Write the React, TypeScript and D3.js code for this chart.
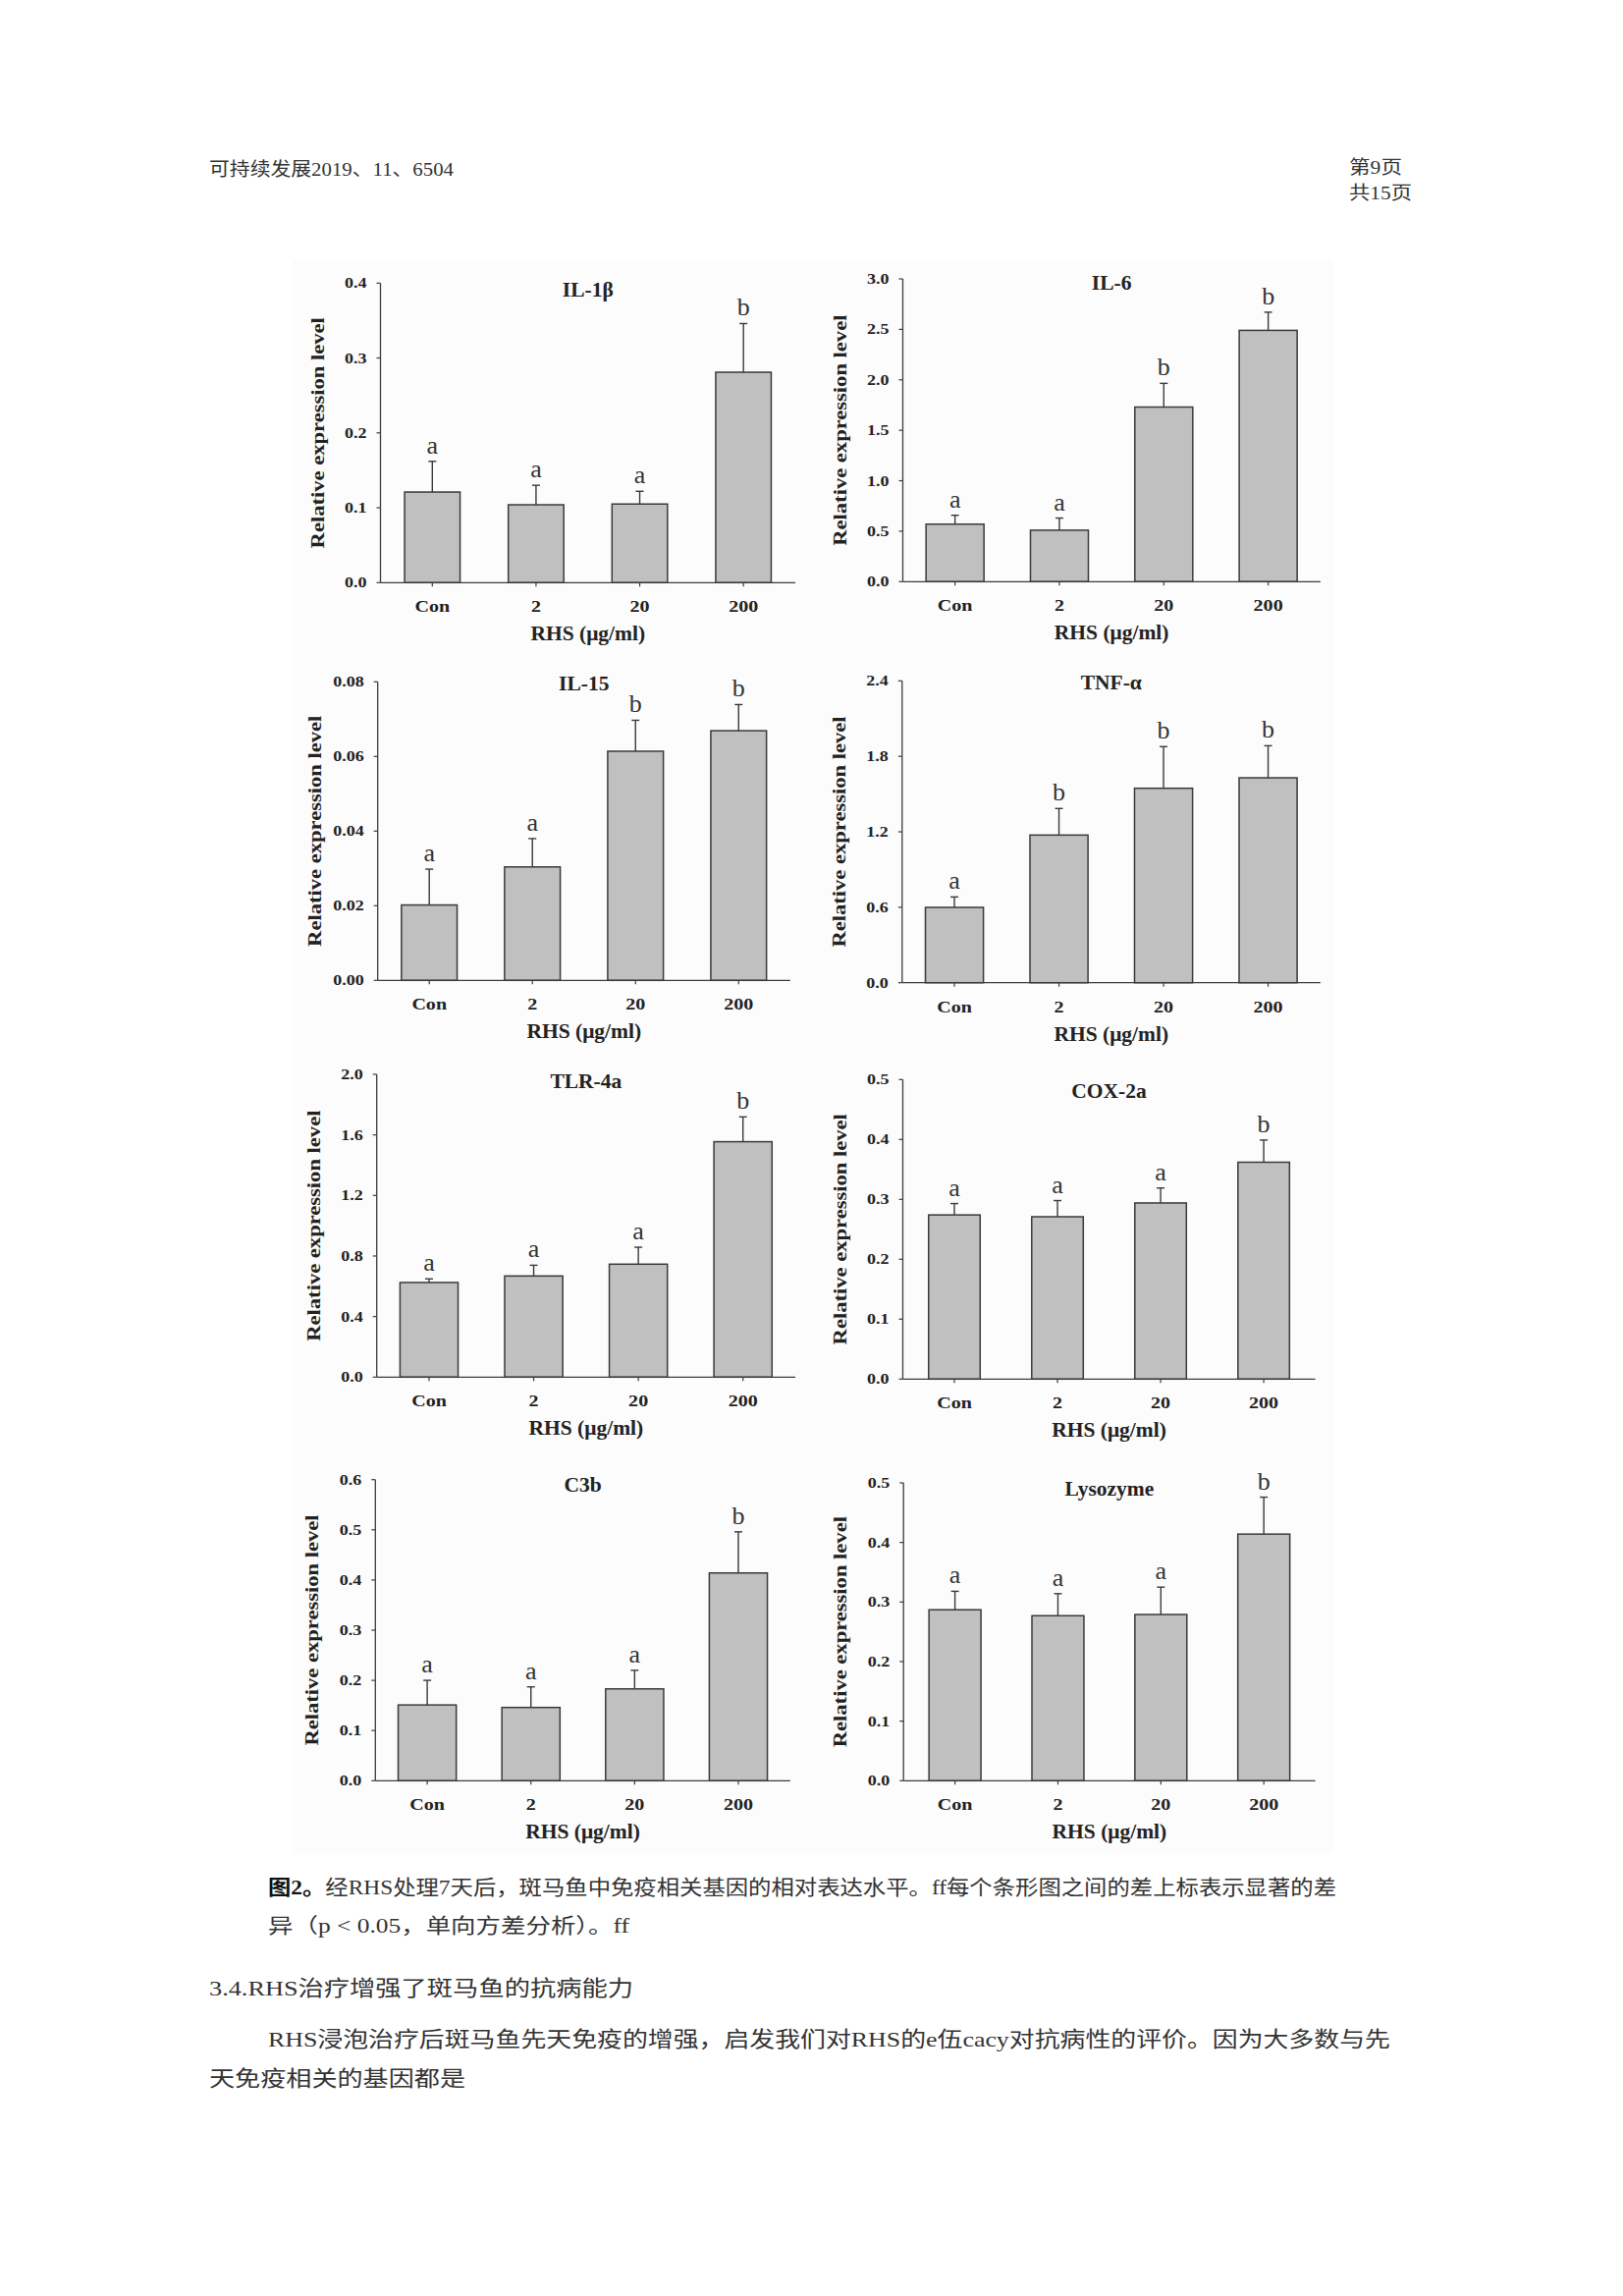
import React from 'react';
import * as d3 from 'd3';

// ---------- DATA ----------
const categories = ['Con', '2', '20', '200'];
const geneNames = ['IL-1β', 'IL-6', 'IL-15', 'TNF-α', 'TLR-4a', 'COX-2a', 'C3b', 'Lysozyme'];

const il1bMean = [0.121, 0.104, 0.105, 0.281];
const il1bErr = [0.041, 0.026, 0.017, 0.065];
const il1bLetters = ['a', 'a', 'a', 'b'];
const il1bTicks = [0, 0.1, 0.2, 0.3, 0.4];

const il6Mean = [0.57, 0.51, 1.73, 2.49];
const il6Err = [0.088, 0.12, 0.235, 0.18];
const il6Letters = ['a', 'a', 'b', 'b'];
const il6Ticks = [0, 0.5, 1.0, 1.5, 2.0, 2.5, 3.0];

const il15Mean = [0.0202, 0.0304, 0.0614, 0.0669];
const il15Err = [0.0096, 0.0076, 0.0083, 0.007];
const il15Letters = ['a', 'a', 'b', 'b'];
const il15Ticks = [0, 0.02, 0.04, 0.06, 0.08];

const tnfMean = [0.599, 1.174, 1.546, 1.629];
const tnfErr = [0.083, 0.211, 0.331, 0.255];
const tnfLetters = ['a', 'b', 'b', 'b'];
const tnfTicks = [0, 0.6, 1.2, 1.8, 2.4];

const tlrMean = [0.625, 0.668, 0.746, 1.555];
const tlrErr = [0.024, 0.071, 0.112, 0.164];
const tlrLetters = ['a', 'a', 'a', 'b'];
const tlrTicks = [0, 0.4, 0.8, 1.2, 1.6, 2.0];

const coxMean = [0.274, 0.271, 0.294, 0.362];
const coxErr = [0.019, 0.027, 0.025, 0.037];
const coxLetters = ['a', 'a', 'a', 'b'];
const coxTicks = [0, 0.1, 0.2, 0.3, 0.4, 0.5];

const c3bMean = [0.151, 0.146, 0.183, 0.414];
const c3bErr = [0.049, 0.041, 0.037, 0.082];
const c3bLetters = ['a', 'a', 'a', 'b'];
const c3bTicks = [0, 0.1, 0.2, 0.3, 0.4, 0.5, 0.6];

const lysMean = [0.287, 0.277, 0.279, 0.414];
const lysErr = [0.031, 0.037, 0.046, 0.062];
const lysLetters = ['a', 'a', 'a', 'b'];
const lysTicks = [0, 0.1, 0.2, 0.3, 0.4, 0.5];

const tickDecimals = [1, 1, 2, 1, 1, 1, 1, 1];

const yAxisTitle = 'Relative expression level';
const xAxisTitle = 'RHS (μg/ml)';

const headerLeft = '可持续发展2019、11、6504';
const headerPage = '第9页';
const headerTotal = '共15页';
const captionBold = '图2。';
const captionLine1 = '经RHS处理7天后，斑马鱼中免疫相关基因的相对表达水平。ff每个条形图之间的差上标表示显著的差';
const captionLine2 = '异（p < 0.05，单向方差分析）。ff';
const sectionHeading = '3.4.RHS治疗增强了斑马鱼的抗病能力';
const paraLine1 = 'RHS浸泡治疗后斑马鱼先天免疫的增强，启发我们对RHS的e伍cacy对抗病性的评价。因为大多数与先';
const paraLine2 = '天免疫相关的基因都是';

const means = [il1bMean, il6Mean, il15Mean, tnfMean, tlrMean, coxMean, c3bMean, lysMean];
const errs = [il1bErr, il6Err, il15Err, tnfErr, tlrErr, coxErr, c3bErr, lysErr];
const letters = [il1bLetters, il6Letters, il15Letters, tnfLetters, tlrLetters, coxLetters, c3bLetters, lysLetters];
const ticks = [il1bTicks, il6Ticks, il15Ticks, tnfTicks, tlrTicks, coxTicks, c3bTicks, lysTicks];

// ---------- LAYOUT ----------
const layout = [
  { x0: 387.5, x1: 810, top: 288.3, bottom: 593.3, pad: 0.465, titleDy: 13.5 },
  { x0: 919.5, x1: 1344.8, top: 284, bottom: 592.3, pad: 0.445, titleDy: 11 },
  { x0: 384.7, x1: 804.8, top: 694.3, bottom: 998.3, pad: 0.46, titleDy: 9 },
  { x0: 918.8, x1: 1344.8, top: 693.3, bottom: 1000.7, pad: 0.445, titleDy: 9 },
  { x0: 383.7, x1: 810, top: 1094, bottom: 1402.3, pad: 0.445, titleDy: 14.3 },
  { x0: 919.5, x1: 1339.6, top: 1099.3, bottom: 1404.3, pad: 0.5, titleDy: 19 },
  { x0: 382.3, x1: 804.8, top: 1506.7, bottom: 1813.3, pad: 0.44, titleDy: 12.7 },
  { x0: 920.2, x1: 1339.6, top: 1510, bottom: 1813.3, pad: 0.495, titleDy: 13.3 },
];

const SERIF = "'Liberation Serif', 'Times New Roman', serif";
const CJK = "'Liberation Serif', 'Noto Sans CJK SC', serif";
const AXIS = '#3c3c3c';
const BAR_FILL = '#c0c0c0';
const BAR_STROKE = '#3a3a3a';
const INK = '#222';

function Panel({ i }: { i: number }) {
  const L = layout[i];
  const tv = ticks[i];
  const x = d3.scaleBand<string>().domain(categories).range([L.x0, L.x1])
    .paddingInner(L.pad).paddingOuter(L.pad / 2);
  const y = d3.scaleLinear().domain([0, tv[tv.length - 1]]).range([L.bottom, L.top]);
  const fmt = d3.format(`.${tickDecimals[i]}f`);
  const cx = (L.x0 + L.x1) / 2;
  const bw = x.bandwidth();
  return (
    <g>
      <text x={cx} y={L.top + L.titleDy} textAnchor="middle" fontFamily={SERIF}
        fontWeight="bold" fontSize={21.5} fill={INK}>{geneNames[i]}</text>
      {categories.map((c, k) => {
        const m = means[i][k];
        const e = errs[i][k];
        const bx = x(c) as number;
        const mid = bx + bw / 2;
        const yt = y(m);
        const ye = y(m + e);
        return (
          <g key={c}>
            <line x1={mid} x2={mid} y1={yt} y2={ye} stroke={BAR_STROKE} strokeWidth={1.4} />
            <line x1={mid - 4} x2={mid + 4} y1={ye} y2={ye} stroke={BAR_STROKE} strokeWidth={1.4} />
            <rect x={bx} y={yt} width={bw} height={L.bottom - yt} fill={BAR_FILL}
              stroke={BAR_STROKE} strokeWidth={1.5} />
            <text x={mid} y={ye - 8} textAnchor="middle" fontFamily={SERIF}
              fontSize={26} fill="#333">{letters[i][k]}</text>
            <line x1={mid} x2={mid} y1={L.bottom} y2={L.bottom + 4} stroke={AXIS} strokeWidth={1.2} />
            <text transform={`translate(${mid},${L.bottom + 30}) scale(1.18,1)`} textAnchor="middle"
              fontFamily={SERIF} fontWeight="bold" fontSize={17} fill={INK}>{c}</text>
          </g>
        );
      })}
      <line x1={L.x0} x2={L.x1} y1={L.bottom} y2={L.bottom} stroke={AXIS} strokeWidth={1.3} />
      <line x1={L.x0} x2={L.x0} y1={L.top} y2={L.bottom} stroke={AXIS} strokeWidth={1.3} />
      {tv.map((t) => (
        <g key={t}>
          <line x1={L.x0 - 4} x2={L.x0} y1={y(t)} y2={y(t)} stroke={AXIS} strokeWidth={1.2} />
          <text transform={`translate(${L.x0 - 14},${y(t) + 5}) scale(1.2,1)`} textAnchor="end"
            fontFamily={SERIF} fontWeight="bold" fontSize={15} fill={INK}>{fmt(t)}</text>
        </g>
      ))}
      <text transform={`translate(${L.x0 - 58},${(L.top + L.bottom) / 2}) rotate(-90) scale(1.22,1)`}
        textAnchor="middle" fontFamily={SERIF} fontWeight="bold" fontSize={18.5} fill={INK}>
        {yAxisTitle}
      </text>
      <text x={cx} y={L.bottom + 59} textAnchor="middle" fontFamily={SERIF}
        fontWeight="bold" fontSize={21.5} fill={INK}>{xAxisTitle}</text>
    </g>
  );
}

export default function App() {
  return (
    <svg width={1653} height={2338} style={{ position: 'absolute', left: 0, top: 0, background: '#fff' }}>
      <rect x={0} y={0} width={1653} height={2338} fill="#fff" />
      <rect x={298} y={265} width={1060} height={1622} fill="#fcfcfc" />
      <text x={213} y={179} fontFamily={CJK} fontSize={19} fill="#333" textLength={249}
        lengthAdjust="spacingAndGlyphs">{headerLeft}</text>
      <text x={1374} y={177} fontFamily={CJK} fontSize={19} fill="#333" textLength={54}
        lengthAdjust="spacingAndGlyphs">{headerPage}</text>
      <text x={1374} y={203} fontFamily={CJK} fontSize={19} fill="#333" textLength={64}
        lengthAdjust="spacingAndGlyphs">{headerTotal}</text>
      {layout.map((_, i) => <Panel key={i} i={i} />)}
      <text x={273} y={1929} fontFamily={CJK} fontSize={21} fill="#333" textLength={1088}
        lengthAdjust="spacingAndGlyphs">
        <tspan fontWeight="bold" fill="#111">{captionBold}</tspan>{captionLine1}
      </text>
      <text x={273} y={1968} fontFamily={CJK} fontSize={21} fill="#333" textLength={368}
        lengthAdjust="spacingAndGlyphs">{captionLine2}</text>
      <text x={213} y={2032} fontFamily={CJK} fontSize={22} fill="#333" textLength={432}
        lengthAdjust="spacingAndGlyphs">{sectionHeading}</text>
      <text x={273} y={2084} fontFamily={CJK} fontSize={22} fill="#333" textLength={1143}
        lengthAdjust="spacingAndGlyphs">{paraLine1}</text>
      <text x={213} y={2124} fontFamily={CJK} fontSize={22} fill="#333" textLength={261}
        lengthAdjust="spacingAndGlyphs">{paraLine2}</text>
    </svg>
  );
}
